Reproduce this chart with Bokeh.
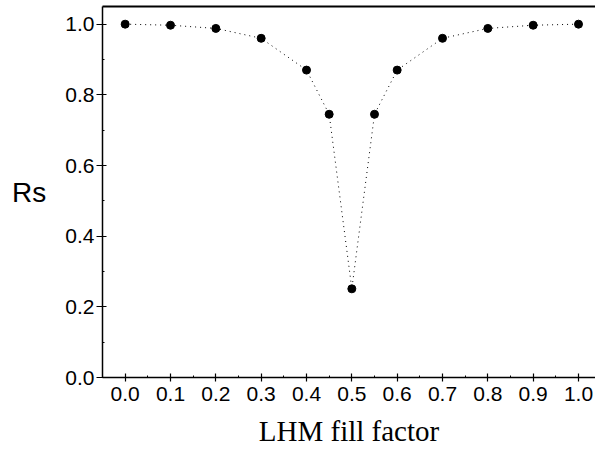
from bokeh.plotting import figure
from bokeh.models import Range1d, LinearAxis, FixedTicker, NumeralTickFormatter
from bokeh.embed import file_html
from bokeh.resources import INLINE

fill_factor = [0.0, 0.1, 0.2, 0.3, 0.4, 0.45, 0.5, 0.55, 0.6, 0.7, 0.8, 0.9, 1.0]
rs = [1.0, 0.997, 0.988, 0.960, 0.870, 0.745, 0.251, 0.745, 0.870, 0.960, 0.988, 0.997, 1.0]
x_ticks = [0.0, 0.1, 0.2, 0.3, 0.4, 0.5, 0.6, 0.7, 0.8, 0.9, 1.0]
y_ticks = [0.0, 0.2, 0.4, 0.6, 0.8, 1.0]

p = figure(width=595, height=449, output_backend="svg", toolbar_location=None,
           x_range=Range1d(-0.05, 1.0375), y_range=Range1d(0, 1.05),
           min_border_left=102, min_border_top=6, min_border_right=0, min_border_bottom=72)
p.outline_line_color = None
p.grid.visible = False
p.background_fill_color = "white"
p.border_fill_color = "white"

p.line(fill_factor, rs, line_color="black", line_width=1, line_dash="1 4")
p.scatter(fill_factor, rs, size=8, color="black")

xa = p.xaxis[0]
xa.ticker = FixedTicker(ticks=x_ticks, minor_ticks=[i * 0.05 - 0.05 for i in range(23)])
xa.formatter = NumeralTickFormatter(format="0.0")
xa.axis_label = "LHM fill factor"
xa.axis_label_text_font = "Liberation Serif"
xa.axis_label_text_font_size = "29px"
xa.axis_label_text_font_style = "normal"
xa.axis_label_text_color = "black"
xa.axis_label_standoff = 11
xa.major_label_text_font = "Liberation Sans"
xa.major_label_text_font_size = "21px"
xa.major_label_text_color = "black"
xa.major_label_standoff = 5
xa.major_tick_in = 4
xa.major_tick_out = 4
xa.minor_tick_in = 2
xa.minor_tick_out = 0
xa.axis_line_width = 1.5
xa.axis_line_color = "black"
xa.major_tick_line_color = "black"
xa.minor_tick_line_color = "black"
xa.major_tick_line_width = 1.2

ya = p.yaxis[0]
ya.ticker = FixedTicker(ticks=y_ticks, minor_ticks=[i * 0.1 for i in range(11)])
ya.formatter = NumeralTickFormatter(format="0.0")
ya.axis_label = "Rs"
ya.axis_label_orientation = "horizontal"
ya.axis_label_text_font = "Liberation Sans"
ya.axis_label_text_font_size = "28px"
ya.axis_label_text_font_style = "normal"
ya.axis_label_text_color = "black"
ya.axis_label_standoff = 16
ya.major_label_text_font = "Liberation Sans"
ya.major_label_text_font_size = "21px"
ya.major_label_text_color = "black"
ya.major_label_standoff = 2
ya.major_tick_in = 4
ya.major_tick_out = 6
ya.minor_tick_in = 2
ya.minor_tick_out = 0
ya.axis_line_width = 1.5
ya.axis_line_color = "black"
ya.major_tick_line_color = "black"
ya.minor_tick_line_color = "black"
ya.major_tick_line_width = 1.2

top = LinearAxis(ticker=FixedTicker(ticks=[]), major_label_text_font_size="0px",
                 major_tick_out=0, major_tick_in=0, minor_tick_out=0, minor_tick_in=0,
                 major_label_standoff=0, axis_line_width=2, axis_line_color="black")
p.add_layout(top, "above")

open("out.html", "w").write(file_html(p, INLINE))
